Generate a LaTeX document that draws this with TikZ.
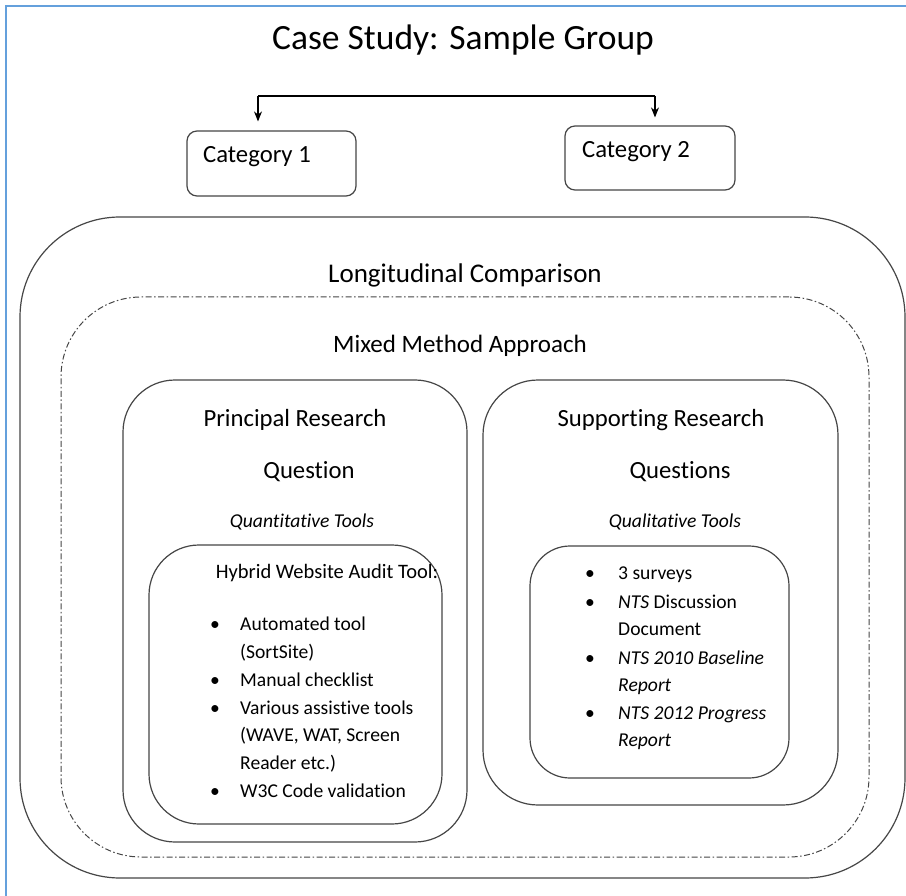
\documentclass[tikz,border=0pt]{standalone}
\usepackage{fontspec}
\setmainfont{Carlito}[Ligatures=NoCommon]
\usetikzlibrary{arrows.meta}
\definecolor{framecol}{RGB}{100,160,220}
\definecolor{linecol}{RGB}{70,70,70}
\begin{document}
\begin{tikzpicture}[x=1pt,y=-1pt,
  frameline/.style={draw=framecol, line width=2pt},
  rbox/.style={draw=linecol, line width=1.2pt, inner sep=0pt, rectangle},
  ddbox/.style={draw=linecol, line width=1pt, dash pattern=on 6pt off 2.5pt on 1.5pt off 2.5pt, inner sep=0pt, rectangle},
  titletxt/.style={font=\fontsize{35.5}{40}\selectfont, inner sep=0pt},
  bigtxt/.style={font=\fontsize{27}{32}\selectfont, inner sep=0pt},
  midtxt/.style={font=\fontsize{25}{30}\selectfont, inner sep=0pt},
  lbltxt/.style={font=\fontsize{24.7}{30}\selectfont, inner sep=0pt},
  tooltxt/.style={font=\fontsize{19.6}{24}\selectfont\itshape, inner sep=0pt},
  itemtxt/.style={font=\fontsize{19.6}{24}\selectfont, inner sep=0pt, anchor=mid west},
  bullet/.style={font=\fontsize{19.6}{24}\selectfont, inner sep=0pt, anchor=mid},
  arr/.style={draw=black, line width=1.1pt, -{Stealth[length=10pt,width=8pt]}},
  conn/.style={draw=black, line width=1.1pt}
]
\useasboundingbox (0,0) rectangle (906,896);
\fill[white] (0,0) rectangle (906,896);
% frame
\coordinate (ftl) at (5.5,6.5);
\coordinate (ftr) at (906,6.5);
\coordinate (fbl) at (5.5,896);
\draw[frameline] (ftr) -- (ftl) -- (fbl);

% title
\node[titletxt] (title) at (463,40) {Case Study: Sample Group};

% categories
\node[rbox, minimum width=169pt, minimum height=65pt, rounded corners=10pt] (cat1) at (271.5,163.5) {};
\node[rbox, minimum width=170pt, minimum height=64pt, rounded corners=10pt] (cat2) at (650,158) {};
\node[lbltxt, anchor=mid west] (cat1t) at (203,160) {Category 1};
\node[lbltxt, anchor=mid west] (cat2t) at (582,155) {Category 2};

\coordinate (s1) at (258,96);
\coordinate (s2) at (655,96);
\draw[conn] (s1) -- (s2);
\draw[arr, shorten >=9pt] (s1) -- (s1 |- cat1.north);
\draw[arr, shorten >=8pt] (s2) -- (s2 |- cat2.north);

% outer boxes
\node[rbox, minimum width=885pt, minimum height=661pt, rounded corners=100pt] (longbox) at (462.5,547.5) {};
\node[bigtxt] (longt) at (465,275) {Longitudinal Comparison};
\node[ddbox, minimum width=808pt, minimum height=560pt, rounded corners=80pt] (mixbox) at (465,577) {};
\node[midtxt] (mixt) at (460,346) {Mixed Method Approach};

% principal
\node[rbox, minimum width=344pt, minimum height=462pt, rounded corners=52pt] (princ) at (295,611) {};
\node[lbltxt] (princt1) at (295,420) {Principal Research};
\node[lbltxt] (princt2) at (309,472) {Question};
\node[tooltxt] (quant) at (302,522) {Quantitative Tools};
\node[rbox, minimum width=293pt, minimum height=279pt, rounded corners=50pt] (hyb) at (295.5,684.5) {};
\node[font=\fontsize{20.5}{24}\selectfont, inner sep=0pt] (hybt) at (327,573) {Hybrid Website Audit Tool:};
\node[bullet] (hb1) at (215,628) {•};
\node[itemtxt] (hi1a) at (240,628) {Automated tool};
\node[itemtxt] (hi1b) at (240,656) {(SortSite)};
\node[bullet] (hb2) at (215,684) {•};
\node[itemtxt] (hi2) at (240,684) {Manual checklist};
\node[bullet] (hb3) at (215,712) {•};
\node[itemtxt] (hi3a) at (240,712) {Various assistive tools};
\node[itemtxt] (hi3b) at (240,739) {(WAVE, WAT, Screen};
\node[itemtxt] (hi3c) at (240,767) {Reader etc.)};
\node[bullet] (hb4) at (215,795) {•};
\node[itemtxt] (hi4) at (240,795) {W3C Code validation};

% supporting
\node[rbox, minimum width=355pt, minimum height=425pt, rounded corners=55pt] (supp) at (660.5,592.5) {};
\node[lbltxt] (suppt1) at (661,420) {Supporting Research};
\node[lbltxt] (suppt2) at (680,472) {Questions};
\node[tooltxt] (qual) at (675,522) {Qualitative Tools};
\node[rbox, minimum width=259pt, minimum height=232pt, rounded corners=40pt] (qbox) at (659.5,662) {};
\node[bullet] (qb1) at (590,577) {•};
\node[itemtxt] (qi1) at (618,577) {3 surveys};
\node[bullet] (qb2) at (590,606) {•};
\node[itemtxt] (qi2a) at (618,606) {\textit{NTS} Discussion};
\node[itemtxt] (qi2b) at (618,633) {Document};
\node[bullet] (qb3) at (590,662) {•};
\node[itemtxt] (qi3a) at (618,662) {\textit{NTS 2010 Baseline}};
\node[itemtxt] (qi3b) at (618,689) {\textit{Report}};
\node[bullet] (qb4) at (590,717) {•};
\node[itemtxt] (qi4a) at (618,717) {\textit{NTS 2012 Progress}};
\node[itemtxt] (qi4b) at (618,744) {\textit{Report}};
\end{tikzpicture}
\end{document}
